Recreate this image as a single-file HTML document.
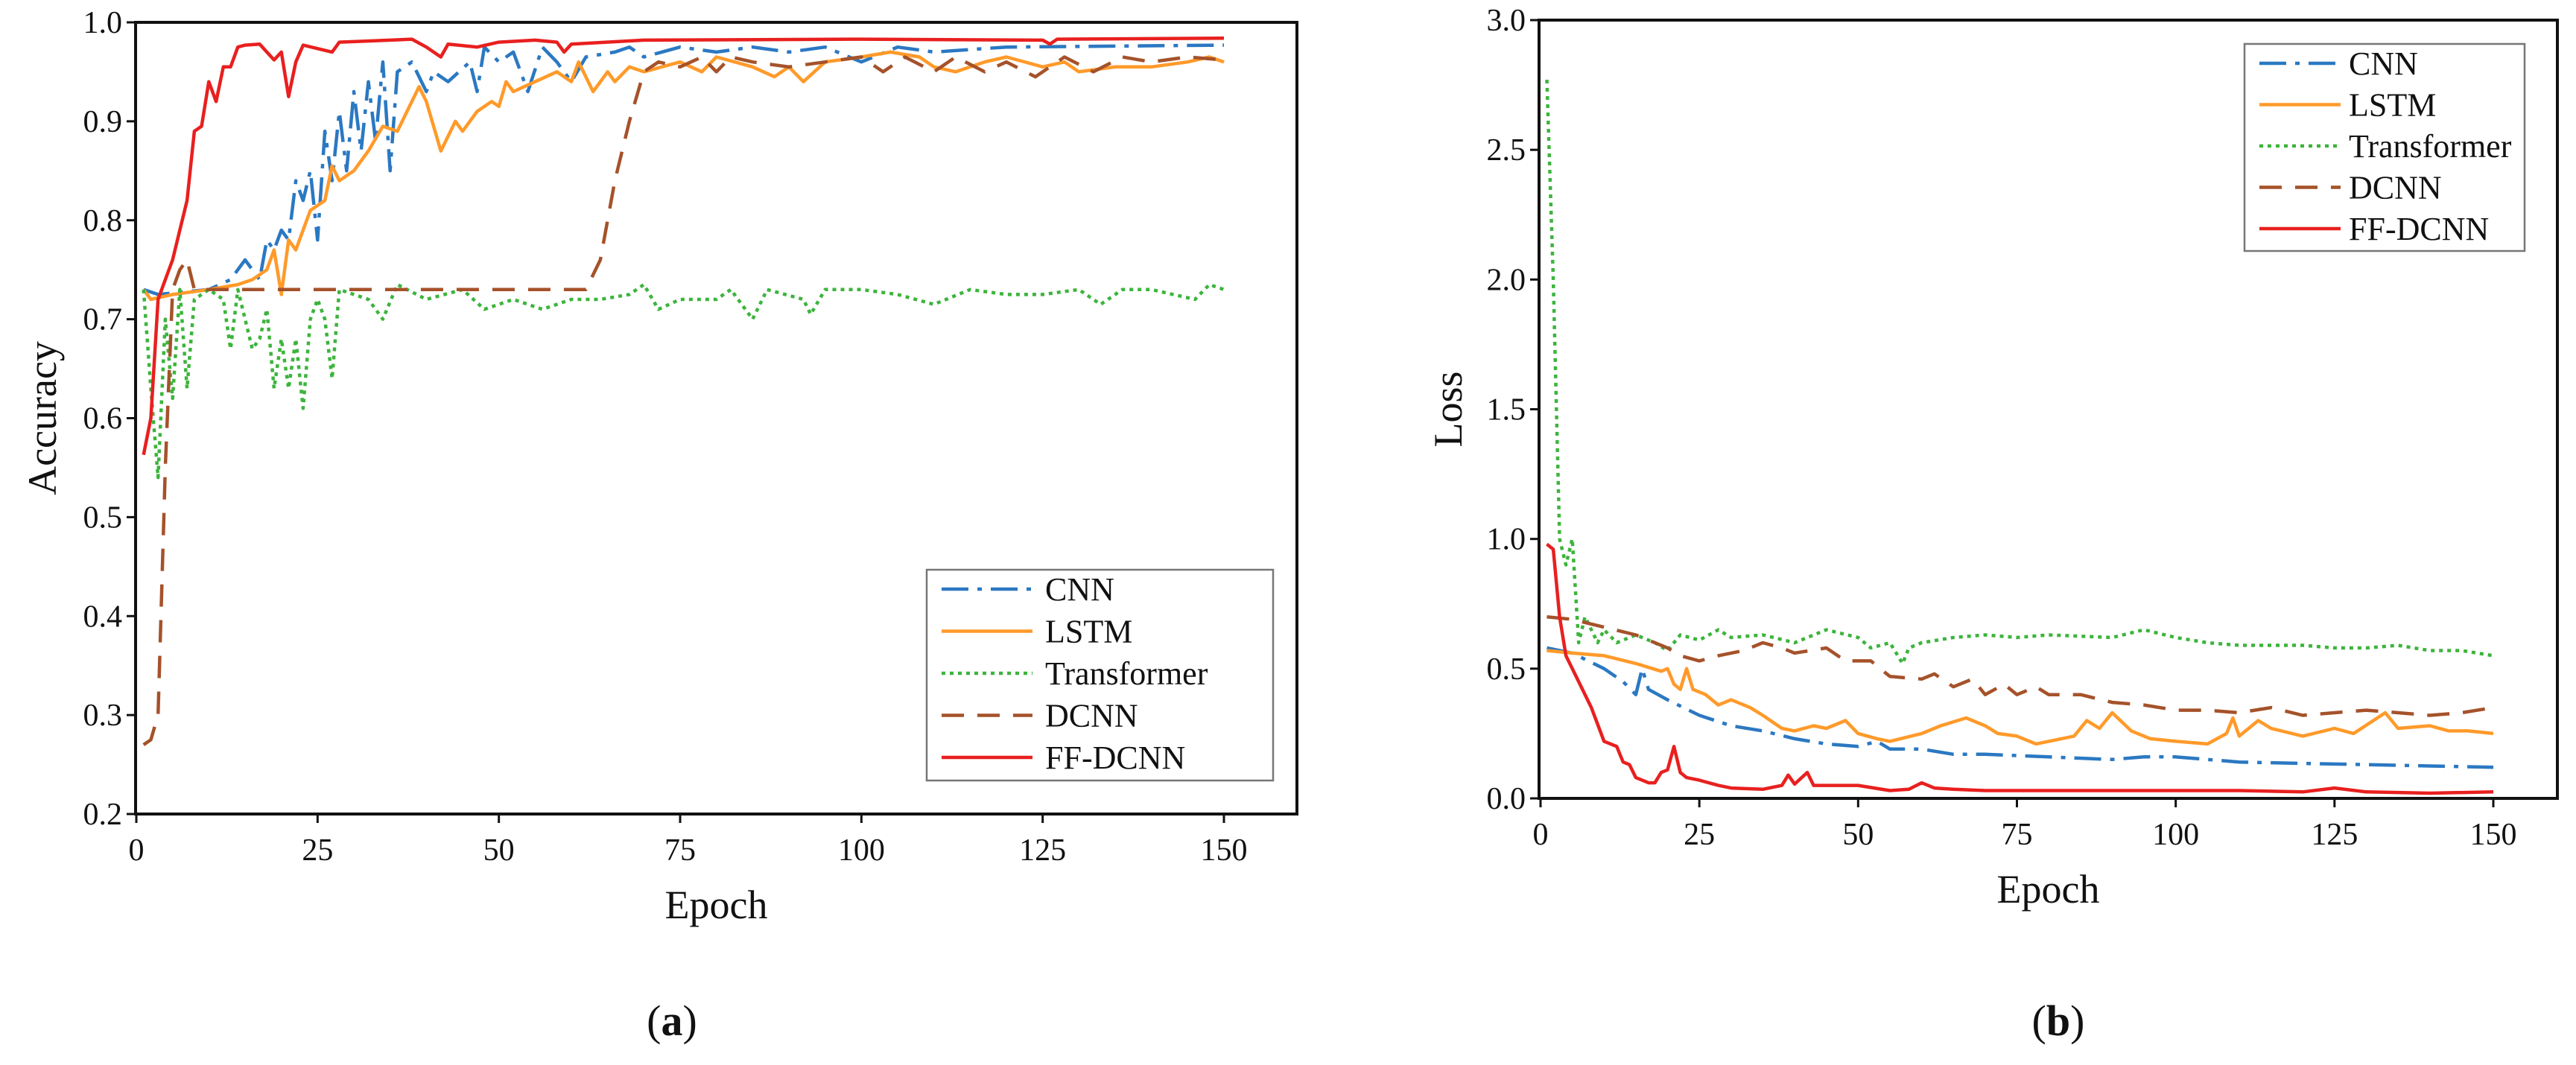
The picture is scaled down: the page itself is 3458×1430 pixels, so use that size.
<!DOCTYPE html>
<html><head><meta charset="utf-8"><style>
html,body{margin:0;padding:0;background:#fff}
svg{display:block}
text{font-family:"Liberation Serif",serif;fill:#111}
</style></head><body>
<svg id="fig" width="3458" height="1430" viewBox="0 0 3458 1430" xmlns="http://www.w3.org/2000/svg"></svg>
<script>
// ---- Data (a) Accuracy ----
const accEpochsFF=[1,2,3,4,5,6,7,8,9,10,11,12,13,14,15,17,19,20,21,22,23,27,28,35,38,40,42,43,47,50,55,58,59,60,70,100,125,126,127,150];
const accFF=[.563,.60,.72,.74,.76,.79,.82,.89,.895,.94,.92,.955,.955,.975,.977,.978,.962,.97,.925,.96,.977,.97,.98,.982,.983,.975,.965,.978,.975,.98,.982,.98,.97,.978,.982,.983,.982,.978,.983,.984];
const accEpochsCNN=[1,3,10,13,15,17,18,19,20,21,22,23,24,25,26,27,28,29,30,31,32,33,34,35,36,38,40,41,43,46,47,48,50,52,54,56,58,60,62,66,68,70,75,80,85,90,95,100,105,110,120,150];
const accCNN=[.73,.725,.73,.74,.76,.74,.78,.77,.79,.78,.84,.82,.85,.78,.89,.84,.91,.85,.93,.87,.94,.88,.96,.85,.95,.96,.93,.95,.94,.96,.93,.975,.96,.97,.93,.975,.96,.94,.965,.97,.975,.965,.975,.97,.975,.97,.975,.96,.975,.97,.975,.977];
const accEpochsLSTM=[1,2,5,10,14,16,18,19,20,21,22,24,26,27,28,30,32,34,36,38,39,40,42,44,45,47,49,50,51,52,55,58,60,61,63,65,66,68,70,75,78,80,85,88,90,92,95,100,104,108,110,113,117,120,125,128,130,135,140,145,148,150];
const accLSTM=[.73,.72,.725,.73,.735,.74,.75,.77,.725,.78,.77,.81,.82,.855,.84,.85,.87,.895,.89,.92,.935,.92,.87,.9,.89,.91,.92,.915,.94,.93,.94,.95,.94,.96,.93,.95,.94,.955,.95,.96,.95,.965,.955,.945,.955,.94,.96,.965,.97,.965,.955,.95,.96,.965,.955,.96,.95,.955,.955,.96,.965,.96];
const accEpochsTR=[1,2,3,4,5,6,7,8,10,12,13,14,15,16,17,18,19,20,21,22,23,24,25,26,27,28,32,34,36,40,45,48,52,56,60,64,68,70,72,75,80,82,85,87,92,93,95,100,105,110,115,120,125,130,133,136,140,143,146,148,150];
const accTR=[.73,.63,.54,.7,.62,.73,.63,.72,.73,.72,.67,.73,.7,.67,.68,.71,.63,.68,.63,.68,.61,.7,.72,.7,.64,.73,.72,.7,.735,.72,.73,.71,.72,.71,.72,.72,.725,.735,.71,.72,.72,.73,.7,.73,.72,.705,.73,.73,.725,.715,.73,.725,.725,.73,.715,.73,.73,.725,.72,.735,.73];
const accEpochsDC=[1,2,3,4,5,6,7,8,60,62,64,66,68,70,72,75,78,80,82,85,90,95,100,103,106,110,113,117,120,124,128,132,136,140,145,150];
const accDC=[.27,.275,.3,.55,.73,.75,.76,.73,.73,.73,.76,.84,.9,.95,.96,.955,.965,.95,.965,.96,.955,.96,.965,.95,.965,.95,.965,.95,.96,.945,.965,.95,.965,.96,.965,.962];
// ---- Data (b) Loss ----
const lossEpochsCNN=[1,5,10,13,15,16,17,20,25,30,35,40,45,50,53,55,60,65,70,80,90,95,100,110,120,130,140,150];
const lossCNN=[.58,.56,.5,.45,.4,.5,.42,.38,.32,.28,.26,.23,.21,.2,.22,.19,.19,.17,.17,.16,.15,.16,.16,.14,.135,.13,.125,.12];
const lossEpochsLSTM=[1,5,10,15,19,20,21,22,23,24,26,28,30,33,35,38,40,43,45,48,50,53,55,60,63,67,70,72,75,78,80,84,86,88,90,93,96,100,105,108,109,110,113,115,120,125,128,133,135,140,143,146,150];
const lossLSTM=[.57,.56,.55,.52,.49,.5,.44,.42,.5,.42,.4,.36,.38,.35,.32,.27,.26,.28,.27,.3,.25,.23,.22,.25,.28,.31,.28,.25,.24,.21,.22,.24,.3,.27,.33,.26,.23,.22,.21,.25,.31,.24,.3,.27,.24,.27,.25,.33,.27,.28,.26,.26,.25];
const lossEpochsTR=[1,2,3,4,5,6,7,8,9,10,12,15,18,20,22,25,28,30,35,40,45,50,52,55,57,58,60,65,70,75,80,90,95,100,105,110,115,120,125,130,135,140,145,150];
const lossTR=[2.77,2.0,1.0,.9,1.0,.6,.7,.65,.6,.65,.6,.63,.6,.57,.63,.61,.65,.62,.63,.6,.65,.62,.58,.6,.52,.58,.6,.62,.63,.62,.63,.62,.65,.62,.6,.59,.59,.59,.58,.58,.59,.57,.57,.55];
const lossEpochsDC=[1,5,10,15,20,22,25,28,32,35,38,40,45,48,52,55,60,62,65,68,70,73,75,78,80,85,90,95,100,105,110,115,120,125,130,135,140,145,150];
const lossDC=[.7,.69,.66,.63,.58,.55,.53,.55,.57,.6,.58,.56,.58,.53,.53,.47,.46,.48,.43,.46,.4,.44,.4,.43,.4,.4,.37,.36,.34,.34,.33,.35,.32,.33,.34,.33,.32,.33,.35];
const lossEpochsFF=[1,2,3,4,6,8,10,12,13,14,15,17,18,19,20,21,22,23,25,28,30,35,38,39,40,42,43,46,48,50,55,58,60,62,65,70,80,90,100,110,120,125,130,140,150];
const lossFF=[.98,.96,.7,.55,.45,.35,.22,.2,.14,.13,.08,.06,.06,.1,.11,.2,.1,.08,.07,.05,.04,.035,.05,.09,.055,.1,.05,.05,.05,.05,.03,.035,.06,.04,.035,.03,.03,.03,.03,.03,.025,.04,.025,.02,.025];
const xTicks=[0,25,50,75,100,125,150];
const accTicks=[0.2,0.3,0.4,0.5,0.6,0.7,0.8,0.9,1.0];
const lossTicks=[0.0,0.5,1.0,1.5,2.0,2.5,3.0];
const seriesNames=["CNN","LSTM","Transformer","DCNN","FF-DCNN"];

const NS="http://www.w3.org/2000/svg";
const svg=document.getElementById('fig');
function el(tag,attrs,parent){const e=document.createElementNS(NS,tag);for(const k in attrs)e.setAttribute(k,attrs[k]);(parent||svg).appendChild(e);return e;}
const styles={
 "CNN":{stroke:"#2b78c2",dash:"36 12 6 12"},
 "LSTM":{stroke:"#ff9a2a",dash:""},
 "Transformer":{stroke:"#3cb43c",dash:"5 6"},
 "DCNN":{stroke:"#a5522a",dash:"30 18"},
 "FF-DCNN":{stroke:"#e8201f",dash:""}
};
function panel(cfg){
 const g=el('g',{});
 
 
 const X=v=>cfg.x0+(v-0)/150*(cfg.x150-cfg.x0);
 const Y=v=>cfg.yb+(v-cfg.ymin)/(cfg.ymax-cfg.ymin)*(cfg.yt-cfg.yb);
 const box=el('rect',{x:cfg.bl,y:cfg.yt,width:cfg.br-cfg.bl,height:cfg.yb-cfg.yt,fill:'none',stroke:'#111','stroke-width':4},g);
 
 xTicks.forEach(t=>{
  const l=el('line',{x1:X(t),x2:X(t),y1:cfg.yb,y2:cfg.yb+12,stroke:'#111','stroke-width':3},g);
  
  const tx=el('text',{x:X(t),y:cfg.yb+62,'text-anchor':'middle','font-size':42},g);tx.textContent=t;
  
 });
 cfg.yticks.forEach(t=>{
  const l=el('line',{x1:cfg.bl-12,x2:cfg.bl,y1:Y(t),y2:Y(t),stroke:'#111','stroke-width':3},g);
  
  const tx=el('text',{x:cfg.bl-18,y:Y(t)+14,'text-anchor':'end','font-size':42},g);tx.textContent=t.toFixed(1);
  
 });
 const xt=el('text',{x:(cfg.bl+cfg.br)/2,y:cfg.yb+140,'text-anchor':'middle','font-size':54},g);xt.textContent='Epoch';
 
 const yt=el('text',{x:0,y:0,'text-anchor':'middle','font-size':54,transform:`translate(${cfg.ytx},${(cfg.yt+cfg.yb)/2}) rotate(-90)`},g);yt.textContent=cfg.ytitle;
 
 cfg.series.forEach(s=>{
  const st=styles[s.name];
  const d=s.xs.map((x,i)=>(i?'L':'M')+X(x).toFixed(1)+','+Y(s.ys[i]).toFixed(1)).join(' ');
  const p=el('path',{d:d,fill:'none',stroke:st.stroke,'stroke-width':4.5,'stroke-dasharray':st.dash,'stroke-linejoin':'round'},g);
  
 });
 const L=cfg.leg;
 const lg=el('g',{},g);
 
 el('rect',{x:L.x,y:L.y,width:L.w,height:L.h,fill:'#fff',stroke:'#777','stroke-width':2.5},lg);
 seriesNames.forEach((n,i)=>{
  const st=styles[n];const yy=L.y+L.first+i*L.step;
  const ln=el('line',{x1:L.x+20,x2:L.x+20+L.len,y1:yy,y2:yy,stroke:st.stroke,'stroke-width':4.5,'stroke-dasharray':st.dash},lg);
  
  const tx=el('text',{x:L.x+L.tx,y:yy+15,'font-size':44},lg);tx.textContent=n;
  
 });
 const lab=el('text',{x:cfg.labx,y:1390,'text-anchor':'middle','font-size':58},g);
 lab.innerHTML='(<tspan font-weight="bold">'+cfg.lab+'</tspan>)';
 
}
panel({name:'accuracy-chart',bl:182,br:1741,x0:183,x150:1643,yt:30,yb:1093,ymin:0.2,ymax:1.0,yticks:accTicks,ytitle:'Accuracy',ytx:75,labx:902,lab:'a',
 leg:{x:1244,y:765,w:465,h:283,first:26,step:56.5,len:122,tx:159},
 series:[{name:'CNN',xs:accEpochsCNN,ys:accCNN},{name:'LSTM',xs:accEpochsLSTM,ys:accLSTM},{name:'Transformer',xs:accEpochsTR,ys:accTR},{name:'DCNN',xs:accEpochsDC,ys:accDC},{name:'FF-DCNN',xs:accEpochsFF,ys:accFF}]});
panel({name:'loss-chart',bl:2066,br:3433,x0:2068,x150:3347,yt:27,yb:1072,ymin:0,ymax:3.0,yticks:lossTicks,ytitle:'Loss',ytx:1962,labx:2763,lab:'b',
 leg:{x:3013,y:59,w:376,h:278,first:26,step:55.5,len:109,tx:140},
 series:[{name:'CNN',xs:lossEpochsCNN,ys:lossCNN},{name:'LSTM',xs:lossEpochsLSTM,ys:lossLSTM},{name:'Transformer',xs:lossEpochsTR,ys:lossTR},{name:'DCNN',xs:lossEpochsDC,ys:lossDC},{name:'FF-DCNN',xs:lossEpochsFF,ys:lossFF}]});
</script>
</body></html>
